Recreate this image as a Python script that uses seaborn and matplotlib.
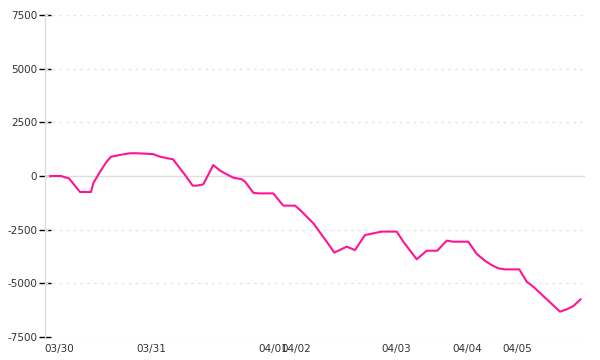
import matplotlib
matplotlib.use("Agg")
import matplotlib.pyplot as plt
import seaborn as sns
import pandas as pd

# sample index (irregular trading-time axis) and cumulative value
t = [0, 2.07, 2.82, 3.58, 5.65, 7.72, 8.15, 9.42, 10.68, 11.49, 13.18, 15.07,
     16.38, 19.40, 20.72, 22.22, 23.16, 25.42, 26.87, 27.63, 28.87, 30.75,
     32.02, 33.28, 34.52, 36.10, 36.72, 38.29, 39.23, 42.05, 42.69, 43.94,
     46.14, 47.09, 49.59, 52.11, 53.54, 55.88, 57.44, 59.32, 60.89, 62.47,
     65.29, 66.54, 69.06, 70.94, 72.94, 74.71, 75.95, 78.78, 80.36, 81.92,
     83.18, 84.43, 85.69, 88.38, 89.77, 91.02, 96.05, 97.31, 98.55, 99.94]
values = [0, 0, -60, -110, -745, -745, -340, 200, 670, 900, 980, 1060,
          1060, 1020, 900, 820, 780, 50, -450, -450, -390, 510,
          250, 80, -80, -150, -260, -780, -810, -810, -1010, -1380,
          -1380, -1580, -2200, -3060, -3570, -3290, -3450, -2750, -2670, -2590,
          -2590, -3060, -3880, -3480, -3480, -3010, -3060, -3060, -3630, -3950,
          -4150, -4300, -4350, -4350, -4920, -5160, -6320, -6210, -6060, -5740]

tick_pos = [1.79, 19.11, 42.09, 46.42, 65.25, 78.63, 88.04]
tick_labels = ["03/30", "03/31", "04/01", "04/02", "04/03", "04/04", "04/05"]
y_ticks = [-7500, -5000, -2500, 0, 2500, 5000, 7500]

df = pd.DataFrame({"t": t, "value": values})

sns.set_style("white")
plt.rcParams['font.family'] = ['DejaVu Sans']

fig = plt.figure(figsize=(6, 3.6), dpi=100)
ax = fig.add_axes([45/600, 1-337/360, 540/600, 322/360])

for yv in y_ticks:
    if yv == 0:
        ax.axhline(yv, color="#dddddd", lw=1, zorder=1)
    else:
        ax.axhline(yv, color="#e6e6e6", lw=1, ls=(0, (2, 3)), zorder=1)

sns.lineplot(data=df, x="t", y="value", color="#ff1493", linewidth=1.5, ax=ax, zorder=3)

ax.set_xlim(-0.94, 100.75)
ax.set_ylim(-7500, 7500)
ax.set_yticks(y_ticks)
ax.set_yticklabels([str(v) for v in y_ticks])
ax.set_xticks(tick_pos)
ax.set_xticklabels(tick_labels)
ax.set_xlabel("")
ax.set_ylabel("")

for s in ["top", "right", "bottom"]:
    ax.spines[s].set_visible(False)
ax.spines["left"].set_color("#dddddd")
ax.spines["left"].set_linewidth(1)

ax.tick_params(axis="y", left=True, direction="inout", length=9, width=1, color="#000000",
               labelsize=7.5, labelcolor="#333333", pad=1)
ax.tick_params(axis="x", bottom=False, length=0, labelsize=7.5, labelcolor="#333333", pad=5)

fig.savefig("out.png", dpi=100)
